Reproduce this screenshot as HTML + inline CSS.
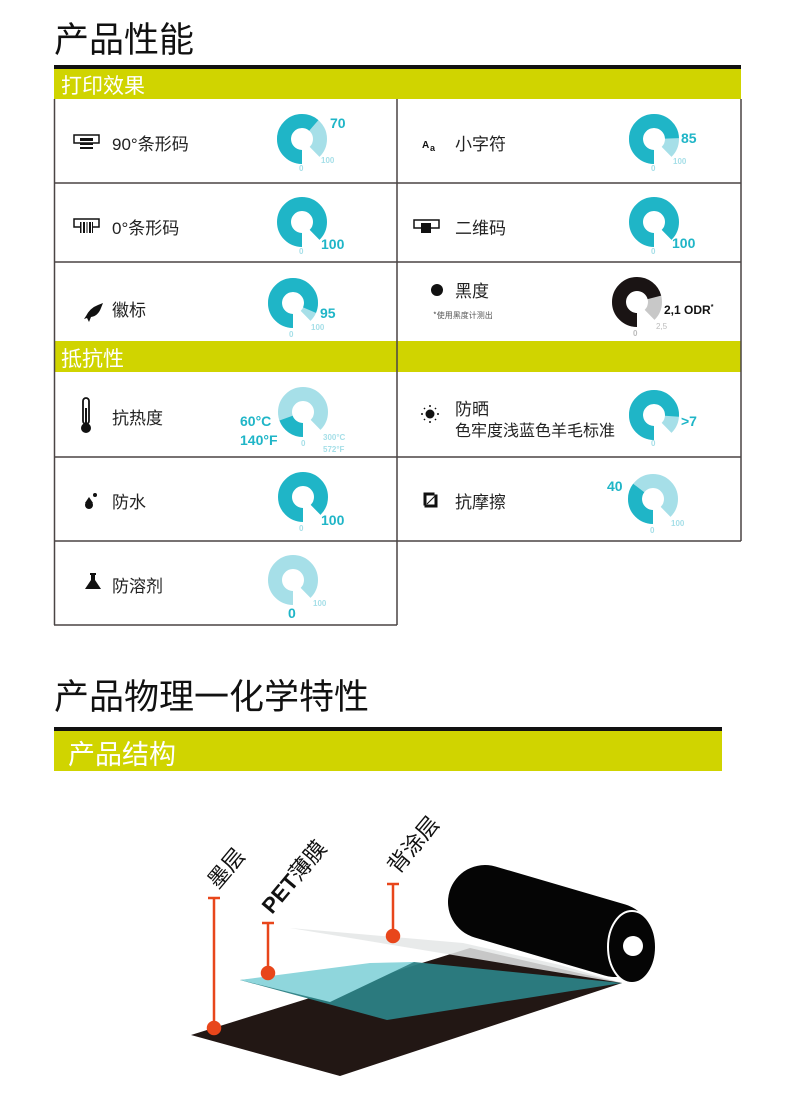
<!DOCTYPE html>
<html><head><meta charset="utf-8"><style>
body{margin:0;width:790px;height:1107px;background:#fff;position:relative;overflow:hidden;font-family:"Liberation Sans","Noto Sans CJK SC",sans-serif;color:#222}
.a{position:absolute;white-space:nowrap}
.t{font-size:17px}
</style></head><body>
<div class="a" style="left:54px;top:12px;font-size:35px;color:#111">产品性能</div>
<div class="a" style="left:54px;top:669px;font-size:35px;color:#111">产品物理一化学特性</div>

<svg class="a" style="left:0;top:0" width="790" height="1107">
<defs>
<g id="d"></g>
</defs>
<!-- bars -->
<rect x="54" y="65" width="687" height="4" fill="#111"/>
<rect x="54" y="69" width="687" height="30" fill="#d0d400"/>
<rect x="54" y="341" width="687" height="31" fill="#d0d400"/>
<rect x="54" y="727" width="668" height="4" fill="#111"/>
<rect x="54" y="731" width="668" height="40" fill="#d0d400"/>
<g stroke="#4a4444" stroke-width="1.5" fill="none">
<line x1="54.5" y1="99" x2="54.5" y2="625"/>
<line x1="741" y1="99" x2="741" y2="541"/>
<line x1="397" y1="99" x2="397" y2="625"/>
<line x1="54" y1="183" x2="741" y2="183"/>
<line x1="54" y1="262" x2="741" y2="262"/>
<line x1="54" y1="457" x2="741" y2="457"/>
<line x1="54" y1="541" x2="741" y2="541"/>
<line x1="54" y1="625" x2="397" y2="625"/>
</g>
<!-- donuts: r=18 sw=14, C=113.1, sweep 99 -->
<g fill="none" stroke-width="14">
<g transform="translate(302,139) rotate(90)"><circle r="18" stroke="#a6dfe8" stroke-dasharray="99 200"/><circle r="18" stroke="#1fb5c7" stroke-dasharray="69.3 200"/></g>
<g transform="translate(654,139) rotate(90)"><circle r="18" stroke="#a6dfe8" stroke-dasharray="99 200"/><circle r="18" stroke="#1fb5c7" stroke-dasharray="84 200"/></g>
<g transform="translate(302,222) rotate(90)"><circle r="18" stroke="#1fb5c7" stroke-dasharray="99 200"/></g>
<g transform="translate(654,222) rotate(90)"><circle r="18" stroke="#1fb5c7" stroke-dasharray="99 200"/></g>
<g transform="translate(293,303) rotate(90)"><circle r="18" stroke="#a6dfe8" stroke-dasharray="99 200"/><circle r="18" stroke="#1fb5c7" stroke-dasharray="92 200"/></g>
<g transform="translate(637,302) rotate(90)"><circle r="18" stroke="#c8c8c8" stroke-dasharray="99 200"/><circle r="18" stroke="#1a1414" stroke-dasharray="80 200"/></g>
<g transform="translate(303,412) rotate(90)"><circle r="18" stroke="#a6dfe8" stroke-dasharray="99 200"/><circle r="18" stroke="#1fb5c7" stroke-dasharray="22 200"/></g>
<g transform="translate(654,415) rotate(90)"><circle r="18" stroke="#a6dfe8" stroke-dasharray="99 200"/><circle r="18" stroke="#1fb5c7" stroke-dasharray="86 200"/></g>
<g transform="translate(303,497) rotate(90)"><circle r="18" stroke="#1fb5c7" stroke-dasharray="99 200"/></g>
<g transform="translate(653,499) rotate(90)"><circle r="18" stroke="#a6dfe8" stroke-dasharray="99 200"/><circle r="18" stroke="#1fb5c7" stroke-dasharray="40 200"/></g>
<g transform="translate(293,580) rotate(90)"><circle r="18" stroke="#a6dfe8" stroke-dasharray="99 200"/></g>
</g>
<!-- donut labels -->
<g font-family="Liberation Sans,sans-serif" font-weight="bold">
<g fill="#1fb5c7" font-size="14">
<text x="330" y="128">70</text><text x="681" y="143">85</text>
<text x="321" y="249">100</text><text x="672" y="248">100</text>
<text x="320" y="318">95</text>
<text x="240" y="426">60°C</text><text x="240" y="445">140°F</text>
<text x="681" y="426">&gt;7</text>
<text x="321" y="525">100</text><text x="607" y="491">40</text>
<text x="288" y="618">0</text>
</g>
<g fill="#a6dfe8" font-size="8">
<text x="321" y="163">100</text><text x="299" y="171">0</text>
<text x="673" y="164">100</text><text x="651" y="171">0</text>
<text x="299" y="254">0</text><text x="651" y="254">0</text>
<text x="311" y="330">100</text><text x="289" y="337">0</text>
<text x="301" y="446">0</text><text x="323" y="440">300°C</text><text x="323" y="452">572°F</text>
<text x="651" y="446">0</text>
<text x="299" y="531">0</text>
<text x="671" y="526">100</text><text x="650" y="533">0</text>
<text x="313" y="606">100</text>
</g>
<text x="664" y="314" font-size="12" fill="#111">2,1 ODR<tspan font-size="7" dy="-5">*</tspan></text>
<text x="656" y="329" font-size="8" fill="#bbb" font-weight="normal">2,5</text>
<text x="633" y="336" font-size="8" fill="#bbb">0</text>
</g>

<!-- icons -->
<g fill="#111">
<rect x="74" y="135" width="25" height="8" fill="none" stroke="#111" stroke-width="1.5"/><rect x="80" y="139" width="13" height="2"/><rect x="80" y="143" width="13" height="2"/><rect x="80" y="147" width="13" height="2"/><rect x="80" y="138" width="13" height="1.5"/>
<rect x="74" y="219" width="25" height="8" fill="none" stroke="#111" stroke-width="1.5"/><rect x="80" y="222" width="13" height="11" fill="#fff"/><g><rect x="80" y="222" width="1.5" height="11"/><rect x="83" y="222" width="2" height="11"/><rect x="86.5" y="222" width="1" height="11"/><rect x="89" y="222" width="2" height="11"/><rect x="92" y="222" width="1" height="11"/></g>
<rect x="414" y="220" width="25" height="8" fill="none" stroke="#111" stroke-width="1.5"/><rect x="421" y="223" width="10" height="10"/>
<text x="422" y="148" font-size="10" font-weight="bold">A</text><text x="430" y="151" font-size="9" font-weight="bold">a</text>
<path d="M86 316 q4-8 12-11 l5-2 -2 5 q-3 8 -10 9 l-2 5 -2-4 -3 1z"/>
<circle cx="437" cy="290" r="6"/>
<rect x="83" y="398" width="6" height="26" rx="3" fill="none" stroke="#111" stroke-width="1.8"/><circle cx="86" cy="428" r="5"/><rect x="85" y="408" width="2" height="18"/>
<circle cx="430" cy="414" r="4.5"/><g stroke="#111" stroke-width="1.5"><line x1="430" y1="405" x2="430" y2="407"/><line x1="430" y1="421" x2="430" y2="423"/><line x1="421" y1="414" x2="423" y2="414"/><line x1="437" y1="414" x2="439" y2="414"/><line x1="424" y1="408" x2="425" y2="409"/><line x1="435" y1="419" x2="436" y2="420"/><line x1="435" y1="409" x2="436" y2="408"/><line x1="424" y1="420" x2="425" y2="419"/></g>
<circle cx="89" cy="505" r="4"/><path d="M85 503 l4-6 4 6z"/><circle cx="95" cy="495" r="2"/>
<path d="M424 493 h10 v2 h-8 v10 h-2z M437 495 v12 h-12 v-2 h10 v-10z M427 504 l9-9" stroke="#111" stroke-width="1" />
<path d="M90 573 h6 v2 h-1 v5 l6 9 h-16 l6-9 v-5 h-1z"/>
</g>
<text x="433" y="318" font-size="8" fill="#555" font-family="Noto Sans CJK SC,sans-serif">*使用黑度计测出</text>

<!-- diagram -->
<polygon points="191,1035 340,1076 622,983 470,948" fill="#221714"/>
<polygon points="240,980 387,1020 622,983 414,962" fill="#2c7f84" opacity="0.95"/>
<polygon points="240,980 330,1002 414,962 370,963" fill="#8fd6dc"/>
<polygon points="290,928 622,983 560,965 463,943" fill="#e4e6e6" opacity="0.85"/>
<line x1="485" y1="902" x2="615" y2="940" stroke="#050505" stroke-width="74" stroke-linecap="round"/>
<ellipse cx="632" cy="947" rx="24" ry="36" fill="#050505" stroke="#fff" stroke-width="2"/>
<circle cx="633" cy="946" r="10" fill="#fff"/>
<g stroke="#e8461b" stroke-width="2.5" fill="#e8461b">
<line x1="214" y1="898" x2="214" y2="1028"/><line x1="208" y1="898" x2="220" y2="898"/><circle cx="214" cy="1028" r="6"/>
<line x1="268" y1="923" x2="268" y2="973"/><line x1="262" y1="923" x2="274" y2="923"/><circle cx="268" cy="973" r="6"/>
<line x1="393" y1="884" x2="393" y2="936"/><line x1="387" y1="884" x2="399" y2="884"/><circle cx="393" cy="936" r="6"/>
</g>
<g font-size="22" fill="#111" font-family="Liberation Sans,Noto Sans CJK SC,sans-serif">
<text transform="translate(218,890) rotate(-50)">墨层</text>
<text transform="translate(272,915) rotate(-50)"><tspan font-weight="bold">PET</tspan>薄膜</text>
<text transform="translate(398,875) rotate(-50)">背涂层</text>
</g>
</svg>

<div class="a" style="left:61px;top:70px;font-size:21px;color:#fff">打印效果</div>
<div class="a" style="left:61px;top:343px;font-size:21px;color:#fff">抵抗性</div>
<div class="a" style="left:68px;top:733px;font-size:27px;color:#fff">产品结构</div>

<div class="a t" style="left:112px;top:130px">90°条形码</div>
<div class="a t" style="left:112px;top:214px">0°条形码</div>
<div class="a t" style="left:112px;top:296px">徽标</div>
<div class="a t" style="left:455px;top:130px">小字符</div>
<div class="a t" style="left:455px;top:214px">二维码</div>
<div class="a t" style="left:455px;top:277px">黑度</div>
<div class="a t" style="left:112px;top:404px">抗热度</div>
<div class="a t" style="left:455px;top:395px">防晒</div>
<div class="a t" style="left:455px;top:417px;font-size:16px">色牢度浅蓝色羊毛标准</div>
<div class="a t" style="left:112px;top:488px">防水</div>
<div class="a t" style="left:455px;top:488px">抗摩擦</div>
<div class="a t" style="left:112px;top:572px">防溶剂</div>
</body></html>
